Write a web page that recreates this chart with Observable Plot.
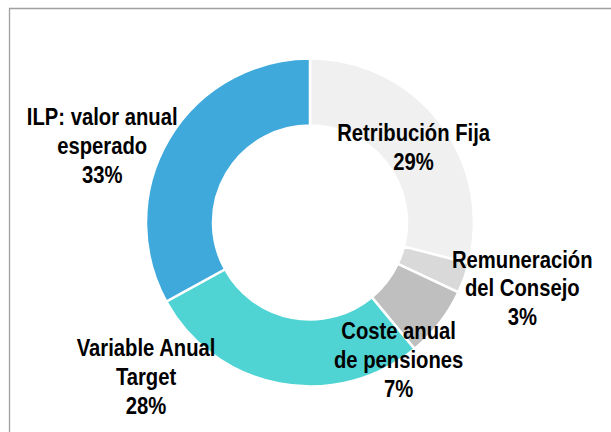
<!DOCTYPE html>
<html>
<head>
<meta charset="utf-8">
<script src="https://cdn.jsdelivr.net/npm/d3@7"></script>
<script src="https://cdn.jsdelivr.net/npm/@observablehq/plot@0.6"></script>
<style>
  html, body { margin: 0; padding: 0; background: #fff; }
  #chart svg { display: block; }
</style>
</head>
<body>
<div id="chart"></div>
<script>
// ---- data ----
const categories = [
  "Retribución Fija",
  "Remuneración\ndel Consejo",
  "Coste anual\nde pensiones",
  "Variable Anual\nTarget",
  "ILP: valor anual\nesperado"
];
const values = [29, 3, 7, 28, 33];
const colors = ["#f0f0f0", "#d9d9d9", "#bfbfbf", "#50d3d3", "#3fa9dc"];

// ---- layout (pixel-equivalent data units, centre of donut at 0,0) ----
const R_OUT = 164, R_IN = 97;
const labelNudge = [[0, 3], [89, 20], [-15, 56], [-140, 25], [-96, -12]];
const NARROW = 0.88; // horizontal squeeze emulating a narrow bold face

const total = d3.sum(values);
const arcs = d3.pie().sort(null).value(d => d)(values);
const rows = arcs.map((a, i) => {
  const mid = (a.startAngle + a.endAngle) / 2;
  const rm = (R_OUT + R_IN) / 2;
  return {
    i,
    label: categories[i] + "\n" + Math.round(values[i] / total * 100) + "%",
    startAngle: a.startAngle,
    endAngle: a.endAngle,
    cx: rm * Math.sin(mid),
    cy: rm * Math.cos(mid)
  };
});

function donut(index, scales, values_, dimensions, context) {
  const x0 = scales.x(0), y0 = scales.y(0);
  const ro = Math.abs(scales.x(R_OUT) - x0);
  const ri = Math.abs(scales.x(R_IN) - x0);
  const arc = d3.arc().innerRadius(ri).outerRadius(ro);
  const g = d3.create("svg:g").attr("transform", `translate(${x0},${y0})`);
  g.selectAll("path").data(rows).join("path")
    .attr("d", d => arc(d))
    .attr("fill", d => colors[d.i])
    .attr("stroke", "#fff")
    .attr("stroke-width", 2.5)
    .attr("stroke-linejoin", "miter");
  return g.node();
}

const textOpts = {
  fontFamily: "'Liberation Sans Narrow', 'Arial Narrow', 'Liberation Sans', Arial, sans-serif",
  fontWeight: "bold",
  fontSize: 23,
  lineHeight: 1.26,
  fill: "#000",
  textAnchor: "middle",
  className: "donut-label"
};

const chart = Plot.plot({
  width: 611,
  height: 432,
  margin: 0,
  x: { type: "linear", domain: [-310, 301], range: [0, 611], axis: null },
  y: { type: "linear", domain: [-209.5, 222.5], range: [432, 0], axis: null },
  marks: [
    Plot.ruleY([214.5], { x1: -301, x2: 301, stroke: "#a0a0a0", strokeWidth: 1.3 }),
    Plot.ruleX([-301], { y1: 214.5, y2: -209.5, stroke: "#a0a0a0", strokeWidth: 1.3 }),
    donut,
    ...rows.map((r, k) => Plot.text([r], {
      x: "cx", y: "cy", text: "label",
      dx: labelNudge[k][0], dy: labelNudge[k][1],
      ...textOpts
    }))
  ]
});
// squeeze label glyphs horizontally around their anchor
d3.select(chart).selectAll("g[aria-label='text'] text").each(function () {
  const t = this.getAttribute("transform") || "";
  this.setAttribute("transform", `${t} scale(${NARROW},1)`);
});
document.getElementById("chart").appendChild(chart);
</script>
</body>
</html>
